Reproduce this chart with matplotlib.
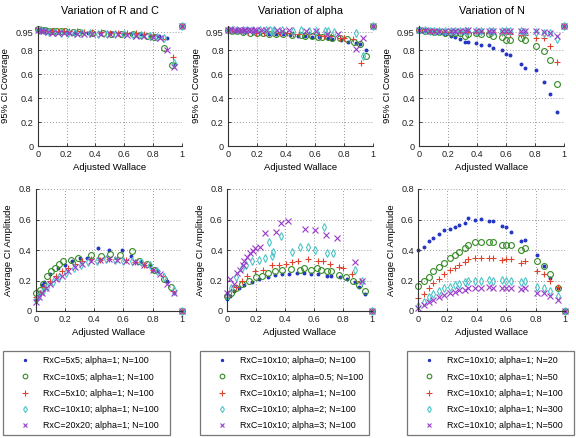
import numpy as np
import matplotlib
matplotlib.use("Agg")
import matplotlib.pyplot as plt

plt.rcParams['font.family'] = ['Liberation Sans', 'DejaVu Sans']

# ---- column 1: variation of R and C ----
rc_labels = ["RxC=5x5; alpha=1; N=100", "RxC=10x5; alpha=1; N=100", "RxC=5x10; alpha=1; N=100",
             "RxC=10x10; alpha=1; N=100", "RxC=20x20; alpha=1; N=100"]
rc_x1 = [0.0, 0.02, 0.04, 0.06, 0.1, 0.15, 0.2, 0.25, 0.3, 0.35, 0.43, 0.5, 0.59, 0.65, 0.72, 0.78, 0.84, 0.9, 0.95, 1.0]
rc_cov1 = [0.97, 0.965, 0.96, 0.955, 0.955, 0.95, 0.95, 0.945, 0.95, 0.945, 0.94, 0.94, 0.935, 0.93, 0.93, 0.92, 0.915, 0.9, 0.68, 1.0]
rc_amp1 = [0.08, 0.12, 0.17, 0.19, 0.24, 0.28, 0.3, 0.33, 0.35, 0.35, 0.41, 0.40, 0.40, 0.36, 0.33, 0.3, 0.26, 0.2, 0.12, 0.0]
rc_x2 = [0.0, 0.03, 0.05, 0.075, 0.105, 0.13, 0.16, 0.19, 0.245, 0.29, 0.38, 0.45, 0.51, 0.575, 0.66, 0.71, 0.76, 0.81, 0.88, 0.93, 1.0]
rc_cov2 = [0.975, 0.965, 0.965, 0.96, 0.955, 0.955, 0.955, 0.955, 0.95, 0.95, 0.945, 0.94, 0.935, 0.935, 0.93, 0.925, 0.92, 0.91, 0.82, 0.675, 1.0]
rc_amp2 = [0.116, 0.14, 0.18, 0.23, 0.26, 0.28, 0.31, 0.33, 0.335, 0.35, 0.365, 0.36, 0.375, 0.365, 0.395, 0.33, 0.31, 0.27, 0.21, 0.16, 0.0]
rc_x3 = [0.0, 0.03, 0.06, 0.1, 0.14, 0.18, 0.22, 0.27, 0.32, 0.38, 0.44, 0.5, 0.56, 0.62, 0.68, 0.74, 0.8, 0.87, 0.94, 1.0]
rc_cov3 = [0.97, 0.965, 0.96, 0.96, 0.96, 0.955, 0.955, 0.955, 0.95, 0.95, 0.95, 0.945, 0.945, 0.94, 0.94, 0.935, 0.925, 0.89, 0.745, 1.0]
rc_amp3 = [0.09, 0.12, 0.16, 0.2, 0.23, 0.26, 0.28, 0.31, 0.33, 0.34, 0.335, 0.34, 0.34, 0.335, 0.32, 0.3, 0.27, 0.23, 0.13, 0.0]
rc_x4 = [0.0, 0.02, 0.05, 0.08, 0.12, 0.16, 0.21, 0.26, 0.31, 0.36, 0.42, 0.48, 0.54, 0.6, 0.66, 0.72, 0.78, 0.83, 0.88, 0.945, 1.0]
rc_cov4 = [0.97, 0.965, 0.955, 0.95, 0.95, 0.945, 0.945, 0.94, 0.94, 0.94, 0.935, 0.935, 0.93, 0.93, 0.925, 0.925, 0.92, 0.91, 0.9, 0.69, 1.0]
rc_amp4 = [0.07, 0.1, 0.13, 0.16, 0.19, 0.22, 0.25, 0.28, 0.3, 0.32, 0.33, 0.34, 0.335, 0.33, 0.33, 0.32, 0.3, 0.26, 0.22, 0.14, 0.0]
rc_x5 = [0.0, 0.02, 0.04, 0.07, 0.1, 0.14, 0.18, 0.22, 0.27, 0.32, 0.38, 0.44, 0.5, 0.56, 0.62, 0.68, 0.74, 0.8, 0.85, 0.9, 0.945, 1.0]
rc_cov5 = [0.97, 0.96, 0.955, 0.95, 0.945, 0.94, 0.94, 0.94, 0.935, 0.935, 0.935, 0.93, 0.93, 0.93, 0.925, 0.92, 0.915, 0.905, 0.9, 0.8, 0.66, 1.0]
rc_amp5 = [0.06, 0.09, 0.12, 0.15, 0.18, 0.21, 0.23, 0.26, 0.29, 0.31, 0.33, 0.335, 0.34, 0.335, 0.33, 0.32, 0.3, 0.27, 0.24, 0.18, 0.12, 0.0]

# ---- column 2: variation of alpha ----
al_labels = ["RxC=10x10; alpha=0; N=100", "RxC=10x10; alpha=0.5; N=100", "RxC=10x10; alpha=1; N=100",
             "RxC=10x10; alpha=2; N=100", "RxC=10x10; alpha=3; N=100"]
al_x1 = [0.0, 0.02, 0.05, 0.08, 0.12, 0.17, 0.22, 0.28, 0.33, 0.38, 0.43, 0.48, 0.53, 0.58, 0.63, 0.69, 0.72, 0.78, 0.83, 0.88, 0.91, 0.95, 1.0]
al_cov1 = [0.97, 0.965, 0.96, 0.955, 0.95, 0.945, 0.94, 0.935, 0.93, 0.93, 0.925, 0.92, 0.915, 0.91, 0.905, 0.90, 0.89, 0.88, 0.87, 0.86, 0.85, 0.80, 1.0]
al_amp1 = [0.08, 0.1, 0.13, 0.15, 0.17, 0.19, 0.21, 0.22, 0.235, 0.24, 0.245, 0.25, 0.25, 0.245, 0.24, 0.23, 0.23, 0.22, 0.21, 0.19, 0.16, 0.11, 0.0]
al_x2 = [0.0, 0.03, 0.06, 0.1, 0.15, 0.2, 0.24, 0.28, 0.33, 0.38, 0.44, 0.5, 0.53, 0.58, 0.62, 0.65, 0.69, 0.72, 0.77, 0.82, 0.87, 0.91, 0.95, 1.0]
al_cov2 = [0.97, 0.96, 0.955, 0.95, 0.945, 0.945, 0.94, 0.935, 0.935, 0.93, 0.925, 0.925, 0.92, 0.915, 0.91, 0.91, 0.905, 0.9, 0.9, 0.89, 0.87, 0.85, 0.75, 1.0]
al_amp2 = [0.1, 0.12, 0.15, 0.18, 0.2, 0.22, 0.23, 0.25, 0.26, 0.27, 0.275, 0.27, 0.28, 0.27, 0.28, 0.27, 0.26, 0.26, 0.235, 0.225, 0.2, 0.17, 0.13, 0.0]
al_x3 = [0.0, 0.03, 0.06, 0.1, 0.14, 0.19, 0.25, 0.31, 0.36, 0.41, 0.45, 0.49, 0.56, 0.63, 0.66, 0.71, 0.77, 0.80, 0.86, 0.92, 1.0]
al_cov3 = [0.97, 0.96, 0.955, 0.95, 0.95, 0.945, 0.945, 0.94, 0.94, 0.94, 0.935, 0.935, 0.93, 0.925, 0.92, 0.915, 0.9, 0.9, 0.89, 0.69, 1.0]
al_amp3 = [0.09, 0.13, 0.16, 0.2, 0.23, 0.26, 0.27, 0.3, 0.3, 0.31, 0.32, 0.33, 0.34, 0.33, 0.33, 0.31, 0.29, 0.285, 0.24, 0.2, 0.0]
al_x4 = [0.0, 0.03, 0.06, 0.1, 0.13, 0.17, 0.22, 0.26, 0.29, 0.31, 0.32, 0.37, 0.45, 0.50, 0.56, 0.61, 0.67, 0.69, 0.73, 0.88, 0.93, 1.0]
al_cov4 = [0.97, 0.97, 0.97, 0.97, 0.97, 0.965, 0.97, 0.965, 0.965, 0.96, 0.965, 0.965, 0.96, 0.965, 0.96, 0.96, 0.955, 0.955, 0.95, 0.945, 0.75, 1.0]
al_amp4 = [0.1, 0.15, 0.22, 0.28, 0.3, 0.33, 0.335, 0.35, 0.45, 0.36, 0.39, 0.49, 0.39, 0.42, 0.42, 0.40, 0.55, 0.38, 0.38, 0.27, 0.2, 0.0]
al_x5 = [0.0, 0.02, 0.05, 0.07, 0.09, 0.11, 0.12, 0.14, 0.16, 0.18, 0.19, 0.23, 0.26, 0.34, 0.37, 0.42, 0.54, 0.61, 0.68, 0.76, 0.88, 0.93, 1.0]
al_cov5 = [0.97, 0.975, 0.97, 0.97, 0.97, 0.97, 0.97, 0.97, 0.97, 0.97, 0.97, 0.97, 0.965, 0.965, 0.96, 0.97, 0.96, 0.96, 0.93, 0.93, 0.81, 0.9, 1.0]
al_amp5 = [0.12, 0.21, 0.18, 0.25, 0.27, 0.3, 0.33, 0.355, 0.38, 0.395, 0.41, 0.42, 0.51, 0.52, 0.58, 0.59, 0.54, 0.53, 0.50, 0.48, 0.32, 0.2, 0.0]

# ---- column 3: variation of N ----
n_labels = ["RxC=10x10; alpha=1; N=20", "RxC=10x10; alpha=1; N=50", "RxC=10x10; alpha=1; N=100",
            "RxC=10x10; alpha=1; N=300", "RxC=10x10; alpha=1; N=500"]
n_x = [0.0, 0.04, 0.075, 0.105, 0.14, 0.18, 0.22, 0.25, 0.28, 0.32, 0.34, 0.39, 0.43, 0.48, 0.51, 0.57, 0.60, 0.63, 0.70, 0.73, 0.81, 0.86, 0.90, 0.95, 1.0]
n_cov1 = [0.97, 0.965, 0.955, 0.95, 0.945, 0.935, 0.92, 0.91, 0.89, 0.87, 0.87, 0.86, 0.845, 0.84, 0.82, 0.80, 0.77, 0.76, 0.68, 0.65, 0.63, 0.53, 0.43, 0.28, 1.0]
n_amp1 = [0.40, 0.42, 0.46, 0.48, 0.505, 0.53, 0.54, 0.55, 0.565, 0.58, 0.61, 0.596, 0.605, 0.59, 0.59, 0.56, 0.55, 0.515, 0.46, 0.465, 0.37, 0.295, 0.215, 0.15, 0.0]
n_cov2 = [0.97, 0.96, 0.955, 0.95, 0.95, 0.94, 0.94, 0.94, 0.94, 0.92, 0.93, 0.94, 0.93, 0.93, 0.92, 0.91, 0.88, 0.88, 0.90, 0.88, 0.83, 0.79, 0.72, 0.52, 1.0]
n_amp2 = [0.165, 0.197, 0.225, 0.26, 0.29, 0.317, 0.345, 0.367, 0.389, 0.41, 0.43, 0.45, 0.45, 0.45, 0.45, 0.43, 0.43, 0.43, 0.40, 0.41, 0.33, 0.295, 0.24, 0.15, 0.0]
n_cov3 = [0.97, 0.965, 0.96, 0.955, 0.955, 0.95, 0.95, 0.95, 0.95, 0.95, 0.95, 0.95, 0.95, 0.945, 0.95, 0.94, 0.94, 0.93, 0.925, 0.925, 0.90, 0.90, 0.83, 0.70, 1.0]
n_amp3 = [0.083, 0.11, 0.148, 0.181, 0.21, 0.24, 0.27, 0.285, 0.30, 0.32, 0.34, 0.345, 0.345, 0.345, 0.345, 0.335, 0.34, 0.34, 0.315, 0.325, 0.26, 0.245, 0.196, 0.155, 0.0]
n_cov4 = [0.97, 0.965, 0.96, 0.96, 0.955, 0.96, 0.955, 0.96, 0.955, 0.955, 0.96, 0.96, 0.955, 0.955, 0.96, 0.955, 0.955, 0.955, 0.955, 0.95, 0.95, 0.94, 0.94, 0.89, 1.0]
n_amp4 = [0.03, 0.06, 0.09, 0.11, 0.13, 0.15, 0.16, 0.17, 0.18, 0.19, 0.2, 0.2, 0.2, 0.205, 0.2, 0.205, 0.2, 0.2, 0.19, 0.2, 0.16, 0.15, 0.13, 0.10, 0.0]
n_cov5 = [0.97, 0.965, 0.96, 0.96, 0.96, 0.96, 0.96, 0.96, 0.96, 0.96, 0.965, 0.96, 0.96, 0.96, 0.96, 0.96, 0.96, 0.955, 0.955, 0.955, 0.955, 0.95, 0.945, 0.92, 1.0]
n_amp5 = [0.02, 0.04, 0.06, 0.075, 0.09, 0.105, 0.115, 0.125, 0.135, 0.14, 0.15, 0.15, 0.15, 0.155, 0.15, 0.15, 0.15, 0.15, 0.145, 0.15, 0.12, 0.115, 0.10, 0.075, 0.0]

titles = ["Variation of R and C", "Variation of alpha", "Variation of N"]

colors = ['#2233c4', '#358a24', '#e0432c', '#4cc6c6', '#9b3cc9']
markers = ['.', 'o', '+', 'd', 'x']
msizes = [4, 4.2, 5, 4, 3.8]

columns = [
    (rc_labels, [rc_x1, rc_x2, rc_x3, rc_x4, rc_x5], [rc_cov1, rc_cov2, rc_cov3, rc_cov4, rc_cov5],
     [rc_amp1, rc_amp2, rc_amp3, rc_amp4, rc_amp5]),
    (al_labels, [al_x1, al_x2, al_x3, al_x4, al_x5], [al_cov1, al_cov2, al_cov3, al_cov4, al_cov5],
     [al_amp1, al_amp2, al_amp3, al_amp4, al_amp5]),
    (n_labels, [n_x] * 5, [n_cov1, n_cov2, n_cov3, n_cov4, n_cov5],
     [n_amp1, n_amp2, n_amp3, n_amp4, n_amp5]),
]

W, H = 576, 438
fig = plt.figure(figsize=(W / 100, H / 100), dpi=100)

# pixel boxes (left, top, width, height)
top_boxes = [(37.7, 26, 144, 120), (228, 26, 145, 120), (419, 26, 145, 120)]
bot_boxes = [(35.7, 189, 146, 122), (227, 189, 145, 122), (418, 189, 147, 122)]
leg_boxes = [(3, 351, 167, 86), (200, 351, 169, 86), (407, 351, 167, 86)]


def px_axes(b):
    l, t, w, h = b
    return fig.add_axes([l / W, (H - t - h) / H, w / W, h / H])


def style(ax, ylim, yticks, ylabels, ylab):
    ax.set_xlim(0, 1)
    ax.set_ylim(*ylim)
    ax.set_xticks([0, 0.2, 0.4, 0.6, 0.8, 1])
    ax.set_xticklabels(["0", "0.2", "0.4", "0.6", "0.8", "1"])
    ax.set_yticks(yticks)
    ax.set_yticklabels(ylabels)
    ax.grid(True, color='#777777', linestyle=(0, (1, 2.5)), linewidth=0.6)
    ax.set_axisbelow(True)
    for s in ['top', 'right']:
        ax.spines[s].set_visible(False)
    for s in ['left', 'bottom']:
        ax.spines[s].set_color('#333333')
        ax.spines[s].set_linewidth(0.8)
    ax.tick_params(direction='in', length=2.5, width=0.6, labelsize=6.6, pad=3, colors='#222222')
    ax.set_xlabel("Adjusted Wallace", fontsize=6.8, labelpad=3)
    ax.set_ylabel(ylab, fontsize=6.8, labelpad=4)
    ax.set_facecolor('white')


for c, (labels, xs, covs, amps) in enumerate(columns):
    ax1 = px_axes(top_boxes[c])
    ax2 = px_axes(bot_boxes[c])
    handles = []
    for i in range(5):
        kw = dict(linestyle='none', marker=markers[i], markersize=msizes[i], color=colors[i],
                  markeredgewidth=0.8, clip_on=False)
        if markers[i] in ('o', 'd'):
            kw['markerfacecolor'] = 'none'
        ax1.plot(xs[i], covs[i], **kw)
        h, = ax2.plot(xs[i], amps[i], label=labels[i], **kw)
        handles.append(h)
    style(ax1, (0, 1), [0, 0.2, 0.4, 0.6, 0.8, 0.95], ["0", "0.2", "0.4", "0.6", "0.8", "0.95"],
          "95% CI Coverage")
    style(ax2, (0, 0.8), [0, 0.2, 0.4, 0.6, 0.8], ["0", "0.2", "0.4", "0.6", "0.8"],
          "Average CI Amplitude")
    ax1.set_title(titles[c], fontsize=7.8, pad=9)

    l, t, w, h = leg_boxes[c]
    leg = fig.legend(handles=handles, labels=labels, loc='upper left',
                     bbox_to_anchor=(l / W, (H - t - h) / H, w / W, h / H),
                     bbox_transform=fig.transFigure, mode='expand', fontsize=6.4,
                     frameon=True, fancybox=False, shadow=False, borderpad=0.6,
                     labelspacing=0.81, handlelength=3.75, handletextpad=0.15,
                     markerscale=0.8, borderaxespad=0)
    leg.get_frame().set_edgecolor('#555555')
    leg.get_frame().set_linewidth(0.9)

fig.savefig("out.png", dpi=100)
